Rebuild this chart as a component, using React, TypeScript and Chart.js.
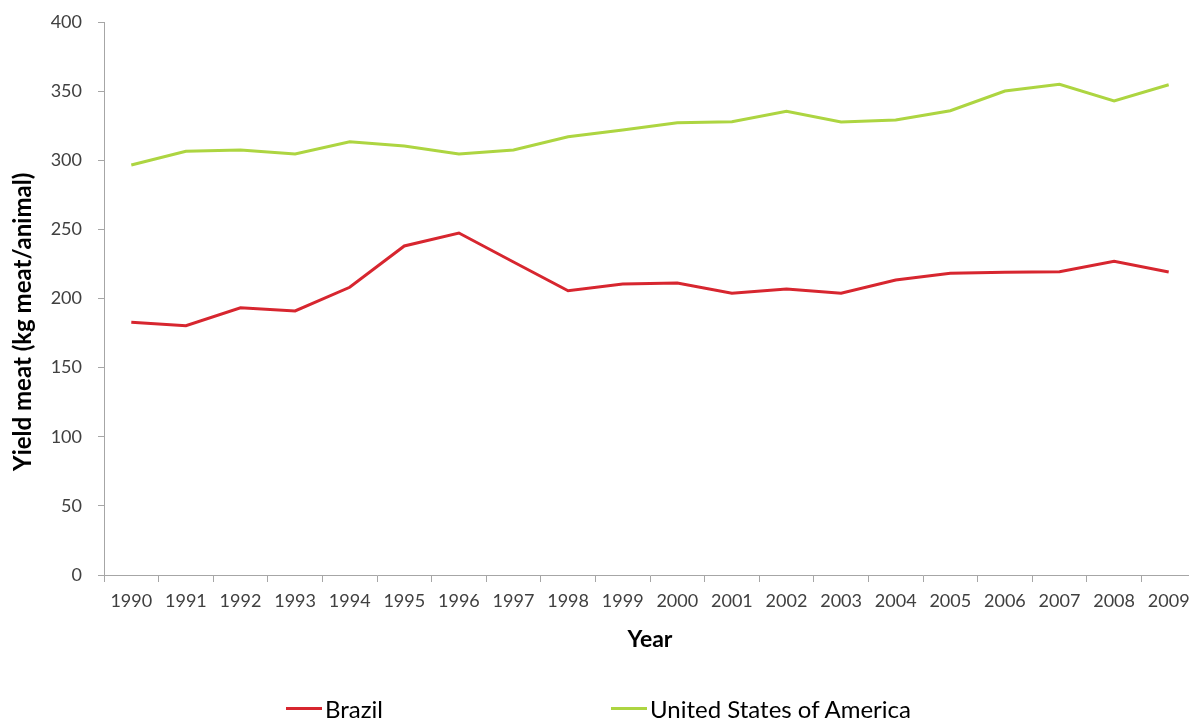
import React, { useEffect, useRef } from "react";
import { Chart, registerables } from "chart.js";

Chart.register(...registerables);

const years = [
  "1990", "1991", "1992", "1993", "1994", "1995", "1996", "1997", "1998", "1999",
  "2000", "2001", "2002", "2003", "2004", "2005", "2006", "2007", "2008", "2009",
];

const brazil = [
  182.8, 180.3, 193.3, 191.0, 208.1, 238.0, 247.4, 226.4, 205.6, 210.5,
  211.2, 203.8, 206.9, 203.8, 213.4, 218.2, 219.0, 219.4, 226.9, 219.2,
];

const usa = [
  296.6, 306.5, 307.4, 304.5, 313.4, 310.3, 304.5, 307.4, 317.0, 321.9,
  327.2, 327.9, 335.4, 327.7, 329.1, 335.8, 350.1, 354.9, 342.9, 354.6,
];

const seriesNames = ["Brazil", "United States of America"];
const seriesColors = ["#D7262F", "#ADD541"];

const yMin = 0;
const yMax = 400;
const yStep = 50;

const FONT = "Lato, 'Open Sans', sans-serif";
const AXIS_COLOR = "#A6A6A6";
const TEXT_COLOR = "#404040";

export default function App() {
  const ref = useRef<HTMLCanvasElement>(null);

  useEffect(() => {
    document.body.style.margin = "0";
    const canvas = ref.current;
    if (!canvas) return;
    const chart = new Chart(canvas, {
      type: "line",
      data: {
        labels: years,
        datasets: [
          {
            label: seriesNames[0],
            data: brazil,
            borderColor: seriesColors[0],
            backgroundColor: seriesColors[0],
            borderWidth: 3,
            pointRadius: 0,
            tension: 0,
          },
          {
            label: seriesNames[1],
            data: usa,
            borderColor: seriesColors[1],
            backgroundColor: seriesColors[1],
            borderWidth: 3,
            pointRadius: 0,
            tension: 0,
          },
        ],
      },
      options: {
        responsive: false,
        animation: false,
        layout: { padding: { top: 22, right: 4, bottom: 63, left: 0 } },
        plugins: {
          legend: { display: false },
          tooltip: { enabled: false },
        },
        scales: {
          x: {
            type: "category",
            offset: true,
            grid: {
              offset: true,
              drawOnChartArea: false,
              drawTicks: true,
              tickLength: 7,
              color: AXIS_COLOR,
            },
            border: { display: true, color: AXIS_COLOR, width: 1 },
            ticks: {
              color: TEXT_COLOR,
              font: { family: FONT, size: 18 },
              padding: 8,
              maxRotation: 0,
              autoSkip: false,
            },
            title: {
              display: true,
              text: "Year",
              color: "#000",
              font: { family: FONT, size: 23, weight: "bold" },
              padding: { top: 0, bottom: 2 },
            },
            afterFit: (s: any) => {
              s.height = 80;
            },
          },
          y: {
            min: yMin,
            max: yMax,
            grid: {
              drawOnChartArea: false,
              drawTicks: true,
              tickLength: 6,
              color: AXIS_COLOR,
            },
            border: { display: true, color: AXIS_COLOR, width: 1 },
            ticks: {
              stepSize: yStep,
              color: TEXT_COLOR,
              font: { family: FONT, size: 18 },
              padding: 16,
            },
            title: {
              display: true,
              text: "Yield meat (kg meat/animal)\u00A0\u00A0\u00A0\u00A0\u00A0\u00A0\u00A0\u00A0",
              color: "#000",
              font: { family: FONT, size: 24, weight: "bold" },
              padding: { top: 9, bottom: 0 },
            },
            afterFit: (s: any) => {
              s.width = 104;
              s.paddingTop = 0;
              s.paddingBottom = 0;
            },
          },
        },
      },
    });
    return () => chart.destroy();
  }, []);

  const legendLefts = [286, 611];

  return (
    <div
      style={{
        position: "relative",
        width: 1189,
        height: 718,
        overflow: "hidden",
        background: "#fff",
      }}
    >
      <canvas
        ref={ref}
        width={1200}
        height={718}
        style={{ display: "block", width: 1200, height: 718 }}
      />
      {seriesNames.map((name, i) => (
        <div
          key={name}
          style={{
            position: "absolute",
            left: legendLefts[i],
            top: 694,
            height: 28,
            display: "flex",
            alignItems: "center",
            fontFamily: FONT,
            fontSize: 24,
            color: "#000",
            whiteSpace: "nowrap",
          }}
        >
          <span
            style={{
              display: "inline-block",
              width: 36,
              height: 3,
              background: seriesColors[i],
              marginRight: 3,
            }}
          />
          <span>{name}</span>
        </div>
      ))}
    </div>
  );
}
